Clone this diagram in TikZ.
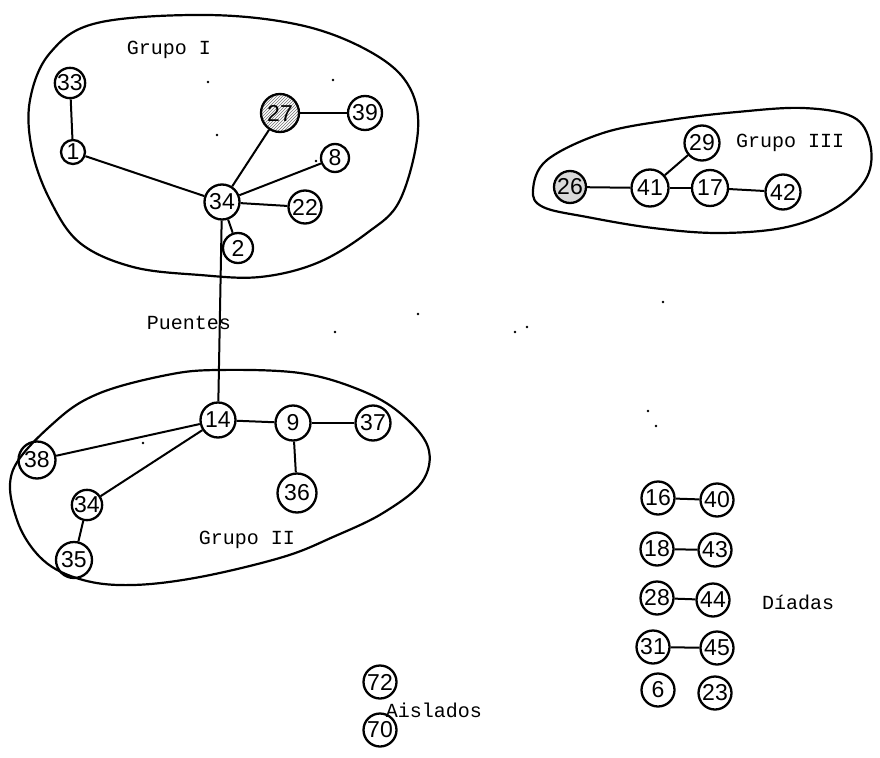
\documentclass[tikz,border=0pt]{standalone}
\usepackage{fontspec}
\setmainfont{Liberation Sans}
\newfontfamily\twfont{Liberation Mono}
\usetikzlibrary{patterns}
\tikzset{
  nd/.style={draw, circle, line width=2.3pt, inner sep=0pt, minimum size=33pt,
    font=\fontsize{23}{23}\selectfont},
  lbl/.style={font=\twfont\fontsize{20}{20}\selectfont, inner sep=0pt},
  edge/.style={line width=2pt},
  grp/.style={line width=2.2pt},
  speck/.style={fill=black, draw=none}
}
\begin{document}
\begin{tikzpicture}[x=1pt,y=-1pt]
\useasboundingbox (0,0) rectangle (880,757);
% group outlines
\draw[grp] plot[smooth cycle, tension=0.6] coordinates {
 (97,23) (207,15) (300,25) (367,50) (407,83) (418,130) (400,200) (367,233)
 (317,263) (260,277) (200,275) (133,267) (80,243) (50,200) (32,150) (30,100) (50,53)};
\draw[grp] plot[smooth cycle, tension=0.6] coordinates {
 (533,190) (547,160) (603,133) (670,120) (737,112) (803,108) (853,117) (870,143)
 (867,177) (837,207) (787,227) (720,233) (653,228) (587,217) (543,207)};
\draw[grp] plot[smooth cycle, tension=0.6] coordinates {
 (57,420) (100,393) (167,375) (217,370) (300,373) (360,390) (400,413) (428,447)
 (422,482) (383,513) (333,537) (283,557) (200,577) (133,585) (83,580) (43,560)
 (17,520) (13,470)};
% labels
\node[lbl] (gI) at (169,50) {Grupo I};
\node[lbl] (gIII) at (790,143) {Grupo III};
\node[lbl] (gII) at (247,540) {Grupo II};
\node[lbl] (pu) at (189,323) {Puentes};
\node[lbl] (di) at (798,602) {Díadas};
\node[lbl] (ai) at (434,710) {Aislados};
% Grupo I nodes
\node[nd, minimum size=29pt] (n33) at (70,83) {33};
\node[nd, minimum size=24pt] (n1) at (73,152) {1};
\node[nd, minimum size=38pt, pattern=north east lines, pattern color=black!55] (n27) at (280,113) {27};
\node[nd, minimum size=34pt] (n39) at (365,113) {39};
\node[nd, minimum size=28pt] (n8) at (335,158) {8};
\node[nd, minimum size=35pt] (n34) at (222,202) {34};
\node[nd, minimum size=33pt] (n22) at (305,207) {22};
\node[nd, minimum size=30pt] (n2) at (238,248) {2};
% Grupo III nodes
\node[nd, minimum size=35pt] (n29) at (702,143) {29};
\node[nd, minimum size=32pt, fill=black!15] (n26) at (570,187) {26};
\node[nd, minimum size=37pt] (n41) at (650,188) {41};
\node[nd, minimum size=36pt] (n17) at (710,188) {17};
\node[nd, minimum size=35pt] (n42) at (783,192) {42};
% Grupo II nodes
\node[nd, minimum size=35pt] (n14) at (218,420) {14};
\node[nd, minimum size=35pt] (n9) at (293,423) {9};
\node[nd, minimum size=35pt] (n37) at (373,423) {37};
\node[nd, minimum size=37pt] (n38) at (37,460) {38};
\node[nd, minimum size=39pt] (n36) at (297,493) {36};
\node[nd, minimum size=30pt] (n34b) at (87,505) {34};
\node[nd, minimum size=36pt] (n35) at (74,560) {35};
% Diadas
\node[nd] (n16) at (658,498) {16};
\node[nd] (n40) at (717,500) {40};
\node[nd] (n18) at (657,549) {18};
\node[nd] (n43) at (715,550) {43};
\node[nd] (n28) at (657,598) {28};
\node[nd] (n44) at (713,600) {44};
\node[nd] (n31) at (653,647) {31};
\node[nd] (n45) at (717,648) {45};
\node[nd] (n6) at (658,690) {6};
\node[nd] (n23) at (715,693) {23};
% Aislados
\node[nd] (n72) at (380,682) {72};
\node[nd] (n70) at (380,730) {70};
% edges
\draw[edge] (n33) -- (n1);
\draw[edge] (n1) -- (n34);
\draw[edge] (n34) -- (n27);
\draw[edge] (n27) -- (n39);
\draw[edge] (n34) -- (n8);
\draw[edge] (n34) -- (n22);
\draw[edge] (n34) -- (n2);
\draw[edge] (n34) -- (n14);
\draw[edge] (n26) -- (n41);
\draw[edge] (n41) -- (n29);
\draw[edge] (n41) -- (n17);
\draw[edge] (n17) -- (n42);
\draw[edge] (n14) -- (n9);
\draw[edge] (n9) -- (n37);
\draw[edge] (n9) -- (n36);
\draw[edge] (n14) -- (n38);
\draw[edge] (n14) -- (n34b);
\draw[edge] (n34b) -- (n35);
\draw[edge] (n16) -- (n40);
\draw[edge] (n18) -- (n43);
\draw[edge] (n28) -- (n44);
\draw[edge] (n31) -- (n45);
% specks
\foreach \p in {(208,82),(217,135),(333,80),(316,161),(213,403),(143,443),(335,332),(418,314),(515,332),(527,327),(663,302),(648,411),(656,426)}
  \fill[speck] \p circle (1.3pt);
\end{tikzpicture}
\end{document}
